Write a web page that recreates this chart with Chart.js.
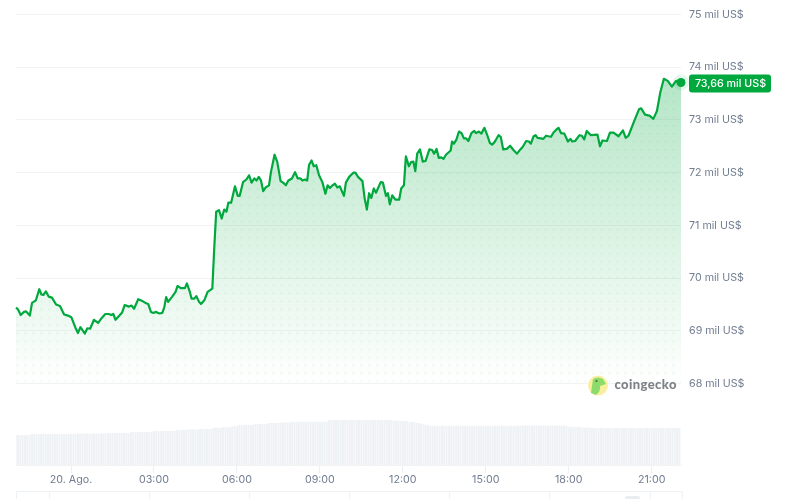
<!DOCTYPE html>
<html lang="es">
<head>
<meta charset="utf-8">
<title>Bitcoin</title>
<script src="https://cdn.jsdelivr.net/npm/chart.js@4"></script>
<style>
html,body{margin:0;padding:0;background:#fff;overflow:hidden}
#wrap{position:relative;width:789px;height:499px}
</style>
</head>
<body>
<div id="wrap"><canvas id="c" width="789" height="499"></canvas></div>
<script>
// Hours relative to 00:00 on 20 Aug
const hours = [
-1.99,-1.92,-1.82,-1.70,-1.63,-1.49,-1.41,-1.27,-1.15,-1.07,-1.00,-0.91,-0.81,-0.69,-0.54,-0.40,-0.25,-0.11,0.01,0.16,
0.25,0.34,0.50,0.59,0.69,0.83,0.98,1.12,1.24,1.36,1.46,1.53,1.61,1.75,1.85,1.94,2.09,2.19,2.28,2.43,
2.60,2.69,2.79,2.89,2.98,3.06,3.20,3.30,3.37,3.44,3.51,3.66,3.78,3.85,3.97,4.12,4.19,4.29,4.36,4.46,
4.53,4.63,4.70,4.82,4.94,5.11,5.18,5.25,5.35,5.45,5.54,5.62,5.69,5.79,5.93,6.03,6.10,6.22,6.34,6.44,
6.53,6.63,6.71,6.79,6.87,6.95,7.04,7.16,7.23,7.36,7.46,7.58,7.67,7.77,7.86,7.99,8.10,8.20,8.30,8.37,
8.47,8.54,8.61,8.70,8.78,8.87,8.97,9.09,9.20,9.28,9.36,9.46,9.54,9.63,9.72,9.87,9.94,10.06,10.21,10.28,
10.38,10.54,10.62,10.70,10.78,10.86,10.95,11.03,11.20,11.28,11.39,11.46,11.53,11.62,11.73,11.87,11.94,12.04,12.11,12.22,
12.30,12.38,12.45,12.52,12.62,12.72,12.82,12.96,13.06,13.13,13.22,13.30,13.39,13.47,13.56,13.73,13.78,13.85,13.94,14.03,
14.12,14.21,14.29,14.37,14.48,14.58,14.65,14.75,14.84,14.95,15.06,15.15,15.23,15.33,15.46,15.54,15.63,15.76,15.88,16.00,
16.13,16.25,16.34,16.46,16.56,16.63,16.73,16.80,16.87,16.99,17.08,17.18,17.26,17.36,17.45,17.54,17.63,17.72,17.84,17.97,
18.06,18.13,18.23,18.39,18.47,18.56,18.65,18.80,19.04,19.13,19.22,19.38,19.49,19.62,19.80,19.96,20.06,20.16,20.37,20.54,
20.62,20.76,20.92,21.06,21.19,21.31,21.44,21.58,21.73,21.88,21.97,22.06];

// Price in thousands of US$
const prices = [
69.44,69.41,69.30,69.36,69.37,69.29,69.53,69.58,69.79,69.69,69.68,69.75,69.65,69.63,69.50,69.47,69.31,69.29,69.26,69.06,
68.96,69.07,68.95,69.05,69.04,69.21,69.15,69.25,69.32,69.32,69.30,69.32,69.21,69.29,69.35,69.49,69.46,69.48,69.42,69.60,
69.56,69.53,69.51,69.36,69.34,69.36,69.33,69.34,69.44,69.64,69.55,69.65,69.74,69.85,69.81,69.81,69.90,69.75,69.61,69.61,
69.66,69.55,69.51,69.58,69.74,69.80,70.57,71.26,71.29,71.13,71.30,71.26,71.43,71.43,71.74,71.56,71.56,71.82,71.87,71.95,
71.81,71.89,71.85,71.92,71.85,71.65,71.72,71.76,72.01,72.34,72.20,71.84,71.81,71.76,71.85,71.89,72.01,71.89,71.89,71.85,
71.87,71.85,72.15,72.23,72.12,72.14,71.95,71.82,71.60,71.76,71.71,71.76,71.79,71.72,71.74,71.56,71.81,71.92,72.00,72.00,
71.92,71.84,71.51,71.30,71.61,71.52,71.70,71.62,71.82,71.81,71.56,71.61,71.40,71.57,71.49,71.49,71.70,71.76,72.31,72.12,
72.20,72.21,72.03,72.36,72.44,72.21,72.22,72.44,72.43,72.36,72.45,72.28,72.29,72.26,72.34,72.42,72.59,72.55,72.63,72.78,
72.75,72.65,72.65,72.60,72.75,72.79,72.75,72.78,72.74,72.85,72.70,72.56,72.53,72.59,72.71,72.68,72.44,72.45,72.51,72.43,
72.36,72.44,72.49,72.60,72.59,72.55,72.69,72.71,72.66,72.65,72.64,72.70,72.69,72.68,72.76,72.81,72.85,72.75,72.74,72.59,
72.64,72.59,72.60,72.71,72.70,72.63,72.79,72.71,72.72,72.50,72.61,72.60,72.76,72.76,72.69,72.80,72.66,72.70,72.98,73.20,
73.22,73.10,73.08,73.02,73.17,73.52,73.78,73.74,73.63,73.74,73.71,73.71];

// Volume bars, one per 5 minutes, in thousands of millions of US$
const volumes = [
30,30,30,30,30,30,30,31,31,31,31,31,31,31,31,31,31,31,31,31,
31,31,31,31,31,31,31,31.5,31.5,31.5,31.5,31.5,31.5,31.5,31.5,31.5,31.5,31.5,31.5,31.5,
32,32,32,32,32,32,32,32,32,32,33,33,33,33,33,33,33,33,33,33,
34,34,34,34,34,34,34,34,34,34,35,35,35,35,35,35.5,35.5,35.5,35.5,35.5,
36,36,36,36,36,36,37.3,37.3,37.3,37.3,38,38,38,38,39,39,39,40,40,40,
40.3,40.3,40.3,40.3,41,41,41,41,41,41,42,42,42,42,42,42.5,42.5,42.5,42.5,42.5,
43.3,43.3,43.3,43.3,43.3,43.3,43.3,43.3,43.3,43.3,43.3,43.3,43.3,43.3,43.3,43.3,45,45,45,45,
45,45,45,45,45,45,45,45,45,45,45,45,45,45,45,45,45,45,45,45,
45,45,45,45,44.5,44.5,44.5,44.5,44,44,44,43,43,43,42,42,41,41,40,40,
39.3,39.3,39.3,39.3,39.3,39.3,39.3,39.3,39.3,39.3,39.3,39.3,39.3,39.3,39.3,39.3,39.3,39.3,39.3,39.3,
39.3,39.3,39.3,39.3,39.3,39.3,39.3,39.3,39.3,39.3,39.3,39.3,39.3,39.3,39.3,39.3,39.3,39.3,39.3,39.3,
39.5,39.5,39.5,39.5,39.5,39.5,39.5,39.5,39.5,39.5,39.5,39.5,39.5,39.5,39.5,39.5,39.5,39.5,39.5,38.8,
38.3,38.3,38.3,38,38,38,37.5,37.5,37.5,37.5,37,37,37,37,37,37,37,37,37,37,
36.8,36.8,36.8,36.8,36.8,36.8,36.8,36.8,36.8,36.8,36.8,36.8,36.8,36.8,36.8,36.8,36.8,36.8,36.8,36.8,
37,37,37,37,37,37,37,37,37];
const volumeStartHour = -2;
const volumeStepHours = 5 / 60;

const priceTicks = [68,69,70,71,72,73,74,75];
const timeTicks = [0,3,6,9,12,15,18,21];
const timeLabels = ['20. Ago.','03:00','06:00','09:00','12:00','15:00','18:00','21:00'];
const latestLabel = '73,66 mil US$';
const watermark = 'coingecko';

const GREEN = '#00a83e';
const GRID = '#f1f3f5';
const TEXT = '#717d90';
const FONT = 'Inter';

const pricePoints = hours.map((h, i) => ({x: h, y: prices[i]}));
const volumePoints = volumes.map((v, i) => ({x: volumeStartHour + i * volumeStepHours, y: v}));

function dotPattern() {
  const p = document.createElement('canvas');
  p.width = 8; p.height = 8;
  const c = p.getContext('2d');
  c.fillStyle = 'rgba(0,168,62,0.055)';
  c.beginPath(); c.arc(1.5, 5.5, 1.3, 0, Math.PI * 2); c.fill();
  return document.createElement('canvas').getContext('2d').createPattern(p, 'repeat');
}

const decorations = {
  id: 'decorations',
  afterDatasetsDraw(chart) {
    const ctx = chart.ctx, y = chart.scales.y;
    // current-price badge
    const py = y.getPixelForValue(prices[prices.length - 1]);
    ctx.save();
    ctx.fillStyle = GREEN;
    ctx.beginPath(); ctx.roundRect(689, py - 8, 82, 18, 3); ctx.fill();
    ctx.fillStyle = '#fff';
    ctx.font = '500 10.7px ' + FONT;
    ctx.textAlign = 'center'; ctx.textBaseline = 'middle';
    ctx.fillText(latestLabel, 730.5, py + 1);
    // watermark
    ctx.fillStyle = '#f8ef9f';
    ctx.beginPath(); ctx.arc(598, 385.5, 10, 0, Math.PI * 2); ctx.fill();
    ctx.fillStyle = '#8ddb6a';
    ctx.beginPath();
    ctx.moveTo(591, 393); ctx.lineTo(593, 379);
    ctx.quadraticCurveTo(598, 376, 603, 379);
    ctx.lineTo(606, 384); ctx.lineTo(600, 386);
    ctx.quadraticCurveTo(601, 391, 596, 395);
    ctx.closePath(); ctx.fill();
    ctx.fillStyle = '#4d6b3c';
    ctx.beginPath(); ctx.arc(596.5, 381, 1.1, 0, Math.PI * 2); ctx.fill();
    ctx.fillStyle = '#7e8287';
    ctx.font = '900 13px Lato';
    ctx.textAlign = 'left';
    ctx.letterSpacing = '0.4px';
    ctx.fillText(watermark, 614.5, 385);
    ctx.letterSpacing = '0px';
    // navigator strip cropped at the bottom of the page
    ctx.strokeStyle = '#eff2f5';
    ctx.lineWidth = 1;
    ctx.beginPath();
    ctx.moveTo(16, 491.5); ctx.lineTo(682.5, 491.5);
    [16.5, 49.5, 149.5, 249.5, 349.5, 449.5, 549.5, 650.5, 682.5].forEach(x => {
      ctx.moveTo(x, 491.5); ctx.lineTo(x, 499);
    });
    ctx.stroke();
    ctx.fillStyle = '#e9edf1';
    ctx.beginPath(); ctx.roundRect(625, 496, 15, 4, 2); ctx.fill();
    ctx.restore();
  }
};

new Chart(document.getElementById('c'), {
  data: {
    datasets: [
      {
        type: 'line',
        data: pricePoints,
        xAxisID: 'x', yAxisID: 'y',
        order: 1,
        clip: false,
        borderColor: GREEN,
        borderWidth: 2.2,
        tension: 0,
        borderJoinStyle: 'round',
        fill: {value: 68},
        backgroundColor(ctx) {
          const chart = ctx.chart, area = chart.chartArea;
          if (!area) return 'transparent';
          const g = chart.ctx.createLinearGradient(0, chart.scales.y.getPixelForValue(74), 0, chart.scales.y.getPixelForValue(68));
          g.addColorStop(0, 'rgba(0,168,62,0.30)');
          g.addColorStop(1, 'rgba(0,168,62,0)');
          return g;
        },
        pointRadius: c => c.dataIndex === prices.length - 1 ? 4.5 : 0,
        pointBorderWidth: 7,
        pointBackgroundColor: GREEN,
        pointBorderColor: 'rgba(0,168,62,0.10)'
      },
      {
        type: 'line',
        data: pricePoints,
        xAxisID: 'x', yAxisID: 'y',
        order: 2,
        borderWidth: 0,
        pointRadius: 0,
        fill: {value: 68},
        backgroundColor: dotPattern()
      },
      {
        type: 'bar',
        data: volumePoints,
        xAxisID: 'x', yAxisID: 'v',
        order: 3,
        backgroundColor: '#eff2f5',
        barThickness: 1.4
      }
    ]
  },
  options: {
    responsive: false,
    animation: false,
    events: [],
    layout: {autoPadding: false, padding: {left: 16, top: 8.6, right: 0, bottom: 0}},
    plugins: {legend: {display: false}, tooltip: {enabled: false}},
    scales: {
      x: {
        type: 'linear',
        position: 'bottom',
        offset: false,
        min: -1.99, max: 22.06,
        afterBuildTicks(s) { s.ticks = timeTicks.map(v => ({value: v})); },
        afterFit(s) { s.height = 34; },
        grid: {offset: false, drawOnChartArea: false, drawTicks: true, tickLength: 8, tickColor: '#eceff3'},
        border: {display: true, color: '#f1f3f5'},
        ticks: {
          autoSkip: false, maxRotation: 0, padding: 0,
          color: TEXT, font: {family: FONT, size: 10.7},
          callback: v => timeLabels[timeTicks.indexOf(v)]
        }
      },
      y: {
        type: 'linear',
        position: 'right',
        min: 66.457, max: 75,
        afterBuildTicks(s) { s.ticks = priceTicks.map(v => ({value: v})); },
        afterFit(s) { s.width = 108; },
        grid: {color: GRID, lineWidth: 1, drawTicks: false},
        border: {display: false},
        ticks: {
          padding: 8, color: TEXT, font: {family: FONT, size: 10.7},
          callback: v => v + ' mil US$'
        }
      },
      v: {
        type: 'linear',
        display: false,
        min: 0, max: 453.7
      }
    }
  },
  plugins: [decorations]
});
</script>
</body>
</html>
